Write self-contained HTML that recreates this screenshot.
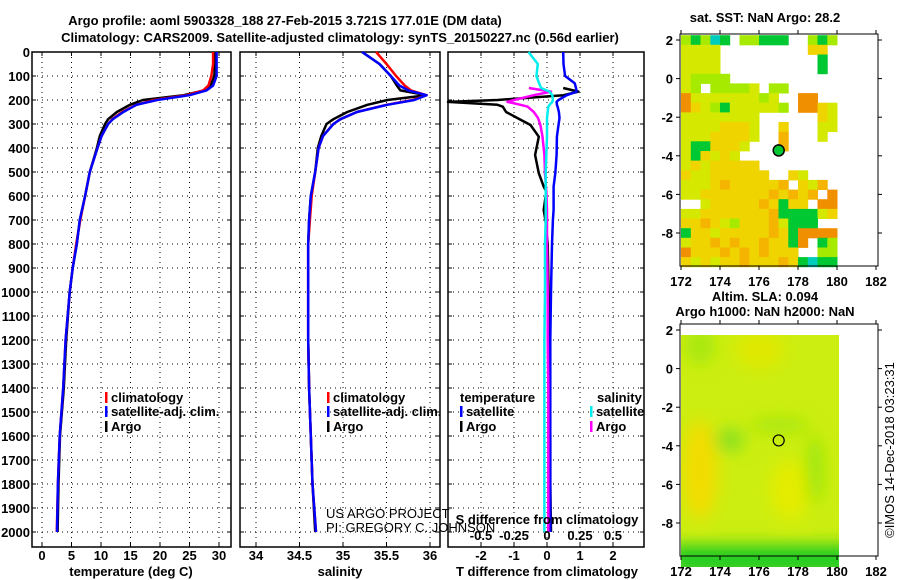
<!DOCTYPE html>
<html><head><meta charset="utf-8"><style>
html,body{margin:0;padding:0;background:#fff;}
svg{display:block;font-family:"Liberation Sans",Arial,sans-serif;}
.b{font-weight:bold;font-size:13px;fill:#000;}
.n{font-size:13px;fill:#000;}
</style></head><body>
<svg id="fig" width="900" height="580" viewBox="0 0 900 580">
<defs>
<filter id="blur" x="-50%" y="-50%" width="200%" height="200%"><feGaussianBlur stdDeviation="8"/></filter>
<clipPath id="altclip"><rect x="681" y="335" width="158" height="232"/></clipPath>
</defs>
<text class="b" x="285" y="25" text-anchor="middle">Argo profile: aoml 5903328_188 27-Feb-2015 3.721S 177.01E (DM data)</text>
<text class="b" x="340" y="42" text-anchor="middle">Climatology: CARS2009. Satellite-adjusted climatology: synTS_20150227.nc (0.56d earlier)</text>
<g id="g1"></g>
<g id="g2"></g>
<g id="g3"></g>
<g id="m1"></g>
<g id="m2"></g>
<text class="n" transform="translate(894,450) rotate(-90)" text-anchor="middle">©IMOS 14-Dec-2018 03:23:31</text>
</svg>
<script>
const depths = [0,50,100,140,160,180,200,220,250,280,300,350,400,500,600,700,800,900,1000,1200,1400,1600,1800,2000];
const tempArgo = [29.3,29.3,29.2,28.6,27.5,24.0,17.1,14.9,12.7,11.2,10.7,9.8,9.3,8.1,7.3,6.4,5.9,5.2,4.7,4.1,3.7,3.05,2.8,2.65];
const tempClim = [29.0,29.0,28.7,28.2,27.3,24.5,19.0,16.0,13.6,11.9,11.2,10.1,9.4,8.1,7.3,6.5,5.8,5.2,4.7,4.0,3.6,3.0,2.7,2.5];
const tempSat  = [29.6,29.6,29.6,29.0,27.9,25.0,19.5,16.0,13.8,12.0,11.2,10.1,9.4,8.1,7.3,6.4,5.9,5.2,4.7,4.0,3.6,3.0,2.7,2.55];
const salArgo = [35.22,35.42,35.55,35.62,35.66,35.96,35.51,35.28,35.05,34.89,34.81,34.75,34.71,34.68,34.63,34.61,34.60,34.60,34.60,34.60,34.61,34.63,34.65,34.68];
const salClim = [35.38,35.50,35.61,35.71,35.78,35.96,35.80,35.50,35.16,34.97,34.89,34.77,34.72,34.68,34.64,34.62,34.60,34.60,34.60,34.60,34.61,34.63,34.65,34.69];
const salSat  = [35.22,35.42,35.55,35.65,35.75,35.96,35.82,35.51,35.16,34.97,34.89,34.77,34.72,34.68,34.63,34.61,34.60,34.60,34.60,34.60,34.61,34.63,34.65,34.69];
const dDepths = [0,50,100,130,150,165,180,200,208,220,228,250,275,304,353,429,505,561,581,658,700,800,1000,1200,1400,1600,1800,2000];
const tDiffSat  = [0.49,0.5,0.55,0.84,0.88,0.9,0.6,0.35,0.29,0.3,0.32,0.36,0.38,0.35,0.3,0.29,0.25,0.2,0.2,0.2,0.18,0.15,0.12,0.1,0.1,0.1,0.1,0.1];
const tDiffArgo = [null,null,null,null,0.49,0.95,0.5,-1.5,-3.0,-1.5,-1.34,-1.24,-0.9,-0.5,-0.25,-0.36,-0.25,-0.1,-0.02,-0.1,-0.05,0.02,0.05,0.08,0.05,0.1,0.1,0.12];
const sDiffSat  = [-0.14,-0.07,-0.08,-0.06,-0.045,0.02,0.04,0.045,0.04,0.02,0.01,0.005,0.0,0.0,0.0,-0.005,-0.01,-0.01,-0.01,-0.01,-0.01,-0.015,-0.015,-0.02,-0.02,-0.02,-0.02,-0.02];
const sDiffArgo = [null,null,null,null,-0.137,0.03,-0.1,-0.25,-0.30,-0.2,-0.146,-0.1,-0.068,-0.05,-0.034,-0.02,-0.015,-0.008,-0.005,0.0,0.0,0.0,0.005,0.005,0.01,0.01,0.01,0.01];
const depthTicks = [0,100,200,300,400,500,600,700,800,900,1000,1100,1200,1300,1400,1500,1600,1700,1800,1900,2000];
const tempTicks = [0,5,10,15,20,25,30];
const salTicks = [34,34.5,35,35.5,36];
const salTickLabels = ["34","34.5","35","35.5","36"];
const tdTicks = [-2,-1,0,1,2];
const sdTicks = [-0.5,-0.25,0,0.25,0.5];
const sdTickLabels = ["-0.5","-0.25","0","0.25","0.5"];
const lonTicks = [172,174,176,178,180,182];
const latTicks = [2,0,-2,-4,-6,-8];
// SST grid: rows from lat 2.25 downward, 0.5 deg cells, cols from lon 172
const sstRows = [
"lglcg.llggg..lgl","yyyy.........YY.","yyyy..........g.","yyyy..........g.",
"yllll...........","yl.lllly.ll.....","Oyyyyyyyly..OO..","OYylgyyyyyl.OOYy",
"yyyyyyyy......Yy","yyyyYYYy..Y...yy","yyyYYYYy..o...y.","yggYYYy...o.....",
"ygYyYy..........","yYyYYYYY........","YyyYYYYYY..Yy...","yyyYoYYYYYo.Yyo.",
"yyYYYYYYYoYoYo.O","..yYYYYYoYgYY.OO","yyYYYYYYYoggggyY","YYoYylYYYoyggg..",
"gYYyYYYYYoYgOOOO","yYYoYoYYoYYgO.gl","OYYYoYoYoYYY..ll","YyYyYYoYYYoYgcgg"];
const sstColors = {y:"#d4e800",Y:"#f0d400",o:"#f5b400",O:"#f09000",l:"#a6ea00",g:"#00c832",c:"#00ccbb"};
const floatLon = 177.01, floatLat = -3.721;

const NS="http://www.w3.org/2000/svg";
function el(tag, attrs, parent){const e=document.createElementNS(NS,tag);for(const k in attrs)e.setAttribute(k,attrs[k]);parent.appendChild(e);return e;}
const Y0=52, YS=0.24; const yD=d=>Y0+d*YS; const BOT=547;
const xT=t=>42+t*5.9; const xS=s=>256+(s-34)*87; const xTD=v=>547+v*33; const xSD=v=>547+v*132;

function frame(g,x0,x1,name){
  const r=el('rect',{x:x0,y:Y0,width:x1-x0,height:BOT-Y0,fill:'none',stroke:'#000','stroke-width':1.5},g);
  
  
  depthTicks.forEach(d=>{
    const l=el('line',{x1:x0,x2:x1,y1:yD(d),y2:yD(d),stroke:'#000','stroke-width':1,'stroke-dasharray':'1,4'},g);
    
    
    el('line',{x1:x0,x2:x0+4,y1:yD(d),y2:yD(d),stroke:'#000'},g);
    el('line',{x1:x1-4,x2:x1,y1:yD(d),y2:yD(d),stroke:'#000'},g);
  });
}
function vgrid(g,x,ylabel,label,cls){
  const l=el('line',{x1:x,x2:x,y1:Y0,y2:BOT,stroke:'#000','stroke-width':1,'stroke-dasharray':'1,4'},g);
  
  
  el('line',{x1:x,x2:x,y1:BOT-4,y2:BOT,stroke:'#000'},g);
  el('line',{x1:x,x2:x,y1:Y0,y2:Y0+4,stroke:'#000'},g);
  if(label!==null){const t=el('text',{x:x,y:ylabel,'text-anchor':'middle',class:cls||'b'},g);t.textContent=label;
    
    }
}
function line(g,xs,ys,xf,color,name,w){
  let d='',pen=false;
  for(let i=0;i<ys.length;i++){const v=xs[i];if(v===null){pen=false;continue;}
    d+=(pen?'L':'M')+xf(v).toFixed(1)+','+yD(ys[i]).toFixed(1);pen=true;}
  const p=el('path',{d:d,fill:'none',stroke:color,'stroke-width':w||2.5,'stroke-linejoin':'round'},g);
  
  
}
function txt(g,x,y,s,cls,name,anchor){const t=el('text',{x:x,y:y,class:cls,'text-anchor':anchor||'start'},g);t.textContent=s;
  
  return t;}
function legend(g,x,y,color,label,name){
  const r=el('rect',{x:x,y:y-10,width:2.5,height:11,fill:color},g);
  
  
  txt(g,x+6,y,label,'b',name);
}
// Panel 1
const g1=document.getElementById('g1');
depthTicks.forEach(d=>txt(g1,30,yD(d)+5,String(d),'b','y-tick-label','end'));
frame(g1,32,231,'temperature');
tempTicks.forEach(t=>vgrid(g1,xT(t),560,String(t)));
line(g1,tempArgo,depths,xT,'#000','argo-temperature-line');
line(g1,tempClim,depths,xT,'#f00','climatology-temperature-line');
line(g1,tempSat,depths,xT,'#00f','satellite-temperature-line');
txt(g1,131,576,'temperature (deg C)','b','x-axis-title-temperature','middle');
legend(g1,105,402,'#f00','climatology','legend-climatology');
legend(g1,105,416,'#00f','satellite-adj. clim.','legend-satellite');
legend(g1,105,431,'#000','Argo','legend-argo');
// Panel 2
const g2=document.getElementById('g2');
frame(g2,240,440,'salinity');
salTicks.forEach((s,i)=>vgrid(g2,xS(s),560,salTickLabels[i]));
line(g2,salArgo,depths,xS,'#000','argo-salinity-line');
line(g2,salClim,depths,xS,'#f00','climatology-salinity-line');
line(g2,salSat,depths,xS,'#00f','satellite-salinity-line');
txt(g2,340,576,'salinity','b','x-axis-title-salinity','middle');
legend(g2,327,402,'#f00','climatology','legend-climatology-2');
legend(g2,327,416,'#00f','satellite-adj. clim.','legend-satellite-2');
legend(g2,327,431,'#000','Argo','legend-argo-2');
txt(g2,326,518,'US ARGO PROJECT','n','credit-project');
txt(g2,326,532,'PI: GREGORY C. JOHNSON','n','credit-pi');
// Panel 3
const g3=document.getElementById('g3');
frame(g3,448,644,'difference');
tdTicks.forEach(t=>vgrid(g3,xTD(t),560,String(t)));
line(g3,tDiffArgo,dDepths,xTD,'#000','argo-t-diff-line');
line(g3,tDiffSat,dDepths,xTD,'#00f','satellite-t-diff-line');
line(g3,sDiffArgo,dDepths,xSD,'#f0f','argo-s-diff-line');
line(g3,sDiffSat,dDepths,xSD,'#0ee','satellite-s-diff-line');
txt(g3,547,524,'S difference from climatology','b','s-diff-axis-title','middle');
sdTicks.forEach((s,i)=>txt(g3,xSD(s),540,sdTickLabels[i],'b','s-diff-tick-label','middle'));
txt(g3,547,576,'T difference from climatology','b','x-axis-title-t-diff','middle');
txt(g3,460,402,'temperature','b','legend-title-temperature');
txt(g3,597,402,'salinity','b','legend-title-salinity');
legend(g3,460,416,'#00f','satellite','legend-t-satellite');
legend(g3,460,431,'#000','Argo','legend-t-argo');
legend(g3,590,416,'#0ee','satellite','legend-s-satellite');
legend(g3,590,431,'#f0f','Argo','legend-s-argo');
// Maps
const lx=lon=>681+(lon-172)*19.5;
function mapAxes(g,top,name){
  const ly=lat=>top+6+(2-lat)*19.3;
  const r=el('rect',{x:680,y:top,width:198,height:232,fill:'none',stroke:'#000','stroke-width':1},g);
  
  
  lonTicks.forEach(l=>{el('line',{x1:lx(l),x2:lx(l),y1:top+232,y2:top+236,stroke:'#000'},g);el('line',{x1:lx(l),x2:lx(l),y1:top,y2:top-4,stroke:'#000'},g);
    txt(g,lx(l),top+252,String(l),'b','lon-tick-label','middle');});
  latTicks.forEach(l=>{el('line',{x1:676,x2:680,y1:ly(l),y2:ly(l),stroke:'#000'},g);el('line',{x1:878,x2:882,y1:ly(l),y2:ly(l),stroke:'#000'},g);
    txt(g,673,ly(l)+5,String(l),'b','lat-tick-label','end');});
  return ly;
}
const m1=document.getElementById('m1');
txt(m1,765,22,'sat. SST: NaN Argo: 28.2','b','sst-map-title','middle');
{
  const ly=lat=>40+(2-lat)*19.3;
  sstRows.forEach((row,i)=>{for(let j=0;j<row.length;j++){const c=row[j];if(c==='.')continue;
    const r=el('rect',{x:lx(172+j*0.5).toFixed(1),y:ly(2.25-i*0.5).toFixed(1),width:10.2,height:10.1,fill:sstColors[c]},m1);
    
    }});
}
const ly1=mapAxes(m1,34,'sst-map');
{const c=el('circle',{cx:lx(floatLon),cy:ly1(floatLat),r:5.5,fill:'#00c832',stroke:'#000','stroke-width':1.5},m1);
 
 }
const m2=document.getElementById('m2');
txt(m2,765,301,'Altim. SLA: 0.094','b','altimetry-map-title','middle');
txt(m2,765,316,'Argo h1000: NaN h2000: NaN','b','altimetry-map-subtitle','middle');
{
  const g=el('g',{'clip-path':'url(#altclip)'},m2);
  const bg=el('rect',{x:681,y:330,width:160,height:240,fill:'#ccee10'},g);
  
  
  const bl=el('g',{filter:'url(#blur)'},g);
  el('ellipse',{cx:700,cy:470,rx:18,ry:50,fill:'#f2dc00'},bl);
  el('ellipse',{cx:760,cy:350,rx:25,ry:18,fill:'#e0e800'},bl);
  el('ellipse',{cx:790,cy:490,rx:20,ry:30,fill:'#e4ec00'},bl);
  el('ellipse',{cx:730,cy:440,rx:14,ry:12,fill:'#88e020'},bl);
  el('ellipse',{cx:815,cy:470,rx:8,ry:35,fill:'#99e610'},bl);
  el('ellipse',{cx:780,cy:425,rx:30,ry:8,fill:'#a8e810'},bl);
  el('ellipse',{cx:700,cy:345,rx:15,ry:20,fill:'#a8e810'},bl);
  el('rect',{x:670,y:545,width:190,height:30,fill:'#22cc22'},bl);
}
const ly2=mapAxes(m2,324,'altimetry-map');
{const c=el('circle',{cx:lx(floatLon),cy:ly2(floatLat),r:5.5,fill:'none',stroke:'#000','stroke-width':1.2},m2);
 
 }
</script>
</body></html>
